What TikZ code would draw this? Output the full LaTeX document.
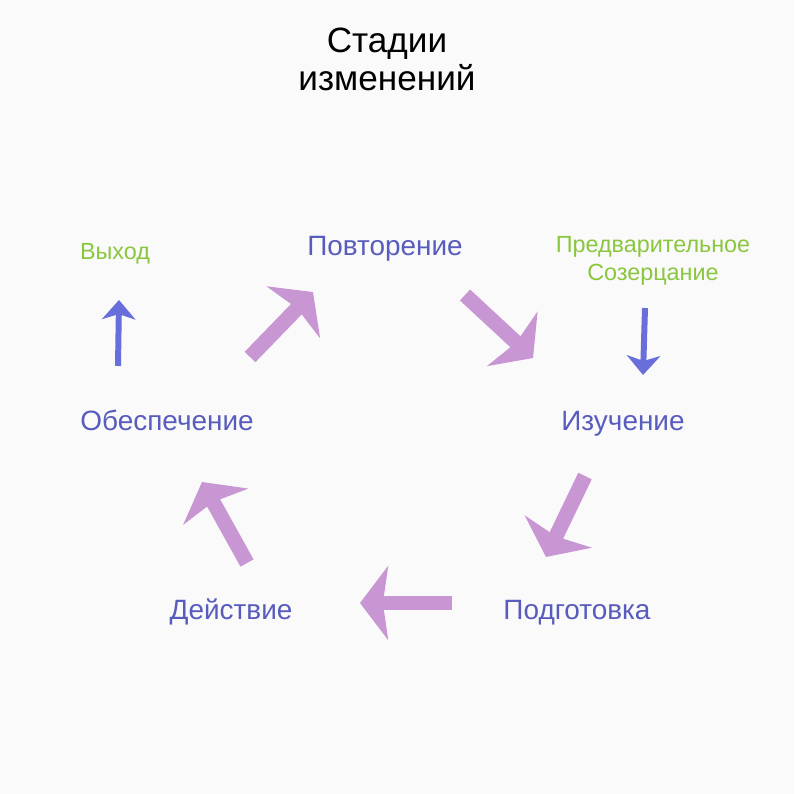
\documentclass[tikz,border=0pt]{standalone}
\usepackage{fontspec}
\setmainfont{Liberation Sans}
\usetikzlibrary{arrows.meta}
\definecolor{stageblue}{RGB}{88,92,188}
\definecolor{outgreen}{RGB}{138,198,62}
\definecolor{cyclepink}{RGB}{201,150,212}
\definecolor{sideblue}{RGB}{104,110,218}
\definecolor{paper}{RGB}{250,250,250}
\tikzset{
every picture/.style={x=0.02cm, y=-0.02cm},
stage/.style={anchor=base, inner sep=0pt, text=stageblue, font=\fontsize{15.9}{19}\selectfont},
outstage/.style={anchor=base, inner sep=0pt, text=outgreen, align=center, font=\fontsize{13.3}{15.6}\selectfont},
cyclearrow/.style={cyclepink, line width=8.5pt, -{Stealth[length=16pt, width=42pt, inset=3pt]}},
sidearrow/.style={sideblue, line width=3.4pt, -{Stealth[length=11pt, width=19pt, inset=3pt]}}
}

\begin{document}
\begin{tikzpicture}
      \fill[paper] (0,0) rectangle (794,794);
      \useasboundingbox (0,0) rectangle (794,794);
      % title
      \node[anchor=base, inner sep=0pt, align=center, font=\fontsize{20}{21.8}\selectfont] (title) at (387,91) {Стадии\\изменений};
      % stages
      \node[stage] (repeat) at (385,255) {Повторение};
      \node[stage] (study) at (623,430) {Изучение};
      \node[stage] (prep) at (577,619) {Подготовка};
      \node[stage] (action) at (231,619) {Действие};
      \node[stage] (maintain) at (167,430) {Обеспечение};
      \node[outstage] (exit) at (115,259) {Выход};
      \node[outstage] (precontemp) at (653,280) {Предварительное\\Созерцание};
      % arrow ends
      \coordinate (m1) at (250,357); \coordinate (r1) at (313,292);
      \coordinate (r2) at (465,295); \coordinate (s1) at (533,358);
      \coordinate (s2) at (585,476); \coordinate (p1) at (546,557);
      \coordinate (p2) at (452,603); \coordinate (a1) at (360,603);
      \coordinate (a2) at (247,563); \coordinate (m2) at (202,482);
      \coordinate (e1) at (118,366); \coordinate (e2) at (119,300);
      \coordinate (c1) at (645,308); \coordinate (c2) at (643,375);
      \foreach \from/\to in {m1/r1, r2/s1, s2/p1, p2/a1, a2/m2} {
        \draw[cyclearrow] (\from) -- (\to);
      }
      \draw[sidearrow] (e1) -- (e2);
      \draw[sidearrow] (c1) -- (c2);
    \end{tikzpicture}
\end{document}
